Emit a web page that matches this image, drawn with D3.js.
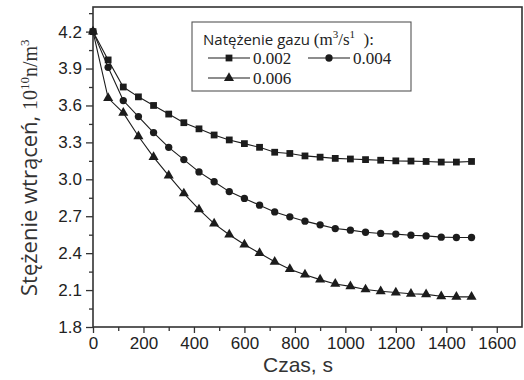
<!DOCTYPE html>
<html>
<head>
<meta charset="utf-8">
<script src="https://cdn.jsdelivr.net/npm/d3@7"></script>
<style>
  body { margin: 0; background: #fff; }
  .tick text { font-family: 'Liberation Sans', Arial, sans-serif; font-size: 17px; fill: #222; }
  .tick line { stroke: #333; stroke-width: 1.3; }
  .domain { display: none; }
</style>
</head>
<body>
<div class="chart-container"></div>
<script>
// time, s
const times = [0, 60, 120, 180, 240, 300, 360, 420, 480, 540, 600, 660, 720, 780, 840,
  900, 960, 1020, 1080, 1140, 1200, 1260, 1320, 1380, 1440, 1500];

// inclusion concentration, 10^10 n/m^3
const flow002 = [4.2, 3.97, 3.75, 3.67, 3.60, 3.53, 3.46, 3.41, 3.36, 3.32, 3.29, 3.26, 3.22,
  3.21, 3.19, 3.18, 3.17, 3.165, 3.16, 3.155, 3.15, 3.148, 3.145, 3.14, 3.14, 3.145];
const flow004 = [4.2, 3.91, 3.64, 3.51, 3.38, 3.26, 3.16, 3.06, 2.98, 2.90, 2.845, 2.79, 2.735,
  2.695, 2.66, 2.63, 2.60, 2.587, 2.57, 2.56, 2.555, 2.546, 2.54, 2.53, 2.527, 2.527];
const flow006 = [4.2, 3.66, 3.54, 3.35, 3.18, 3.03, 2.885, 2.755, 2.64, 2.55, 2.47, 2.40, 2.33,
  2.27, 2.225, 2.185, 2.15, 2.13, 2.105, 2.09, 2.08, 2.07, 2.065, 2.05, 2.045, 2.045];

const seriesLabels = ['0.002', '0.004', '0.006'];
const seriesSymbols = [d3.symbolSquare, d3.symbolCircle, d3.symbolTriangle];
const symbolSizes = [46, 42, 44];

const xTicks = [0, 200, 400, 600, 800, 1000, 1200, 1400, 1600];
const xMinor = [100, 300, 500, 700, 900, 1100, 1300, 1500];
const yTicks = [1.8, 2.1, 2.4, 2.7, 3.0, 3.3, 3.6, 3.9, 4.2];
const yMinor = [1.95, 2.25, 2.55, 2.85, 3.15, 3.45, 3.75, 4.05, 4.35];

const width = 524;
const height = 380;
const margin = { top: 7, right: 2, bottom: 53, left: 93 };
const innerW = width - margin.left - margin.right;
const innerH = height - margin.top - margin.bottom;
const ink = '#1c1c1c';
const serif = "'Liberation Serif', 'Times New Roman', serif";
const sans = "'Open Sans', sans-serif";

const svg = d3.select('.chart-container')
  .append('svg')
  .attr('width', width)
  .attr('height', height);

const x = d3.scaleLinear().domain([0, 1700]).range([0, innerW]);
const y = d3.scaleLinear().domain([1.8, 4.4]).range([innerH, 0]);

const g = svg.append('g')
  .attr('transform', `translate(${margin.left}, ${margin.top})`);

// minor ticks
g.append('g')
  .attr('transform', `translate(0, ${innerH})`)
  .call(d3.axisBottom(x).tickValues(xMinor).tickSize(4).tickFormat(''));
g.append('g')
  .call(d3.axisLeft(y).tickValues(yMinor).tickSize(4).tickFormat(''));

// major ticks
g.append('g')
  .attr('transform', `translate(0, ${innerH})`)
  .call(d3.axisBottom(x).tickValues(xTicks).tickSize(6).tickPadding(4).tickFormat(d3.format('d')));
g.append('g')
  .call(d3.axisLeft(y).tickValues(yTicks).tickSize(7).tickPadding(4).tickFormat(d3.format('.1f')));

// frame
g.append('rect')
  .attr('width', innerW)
  .attr('height', innerH)
  .attr('fill', 'none')
  .attr('stroke', '#333')
  .attr('stroke-width', 1.6);

const series = [flow002, flow004, flow006].map((vals, i) => ({
  label: seriesLabels[i],
  symbol: seriesSymbols[i],
  size: symbolSizes[i],
  points: vals.map((v, j) => ({ t: times[j], v: v }))
}));

const line = d3.line()
  .x((d) => x(d.t))
  .y((d) => y(d.v));

series.forEach((s) => {
  g.append('path')
    .datum(s.points)
    .attr('d', line)
    .attr('fill', 'none')
    .attr('stroke', ink)
    .attr('stroke-width', 1.1);

  g.selectAll(null)
    .data(s.points)
    .enter()
    .append('path')
    .attr('transform', (d) => `translate(${x(d.t)}, ${y(d.v)})`)
    .attr('d', d3.symbol().type(s.symbol).size(s.size))
    .attr('fill', ink);
});

// legend
const legend = svg.append('g').attr('transform', 'translate(192, 22)');
legend.append('rect')
  .attr('width', 219)
  .attr('height', 69)
  .attr('fill', '#fff')
  .attr('stroke', '#555')
  .attr('stroke-width', 1.1);

const legendTitle = legend.append('text')
  .attr('x', 11)
  .attr('y', 23)
  .attr('fill', '#222');
legendTitle.append('tspan')
  .style('font-family', sans)
  .style('font-size', '15px')
  .text('Natężenie gazu\u00a0');
legendTitle.append('tspan')
  .style('font-family', serif)
  .style('font-size', '17px')
  .text('(m');
legendTitle.append('tspan')
  .style('font-family', serif)
  .style('font-size', '11px')
  .attr('dy', -7)
  .text('3');
legendTitle.append('tspan')
  .style('font-family', serif)
  .style('font-size', '17px')
  .attr('dy', 7)
  .text('/s');
legendTitle.append('tspan')
  .style('font-family', serif)
  .style('font-size', '11px')
  .attr('dy', -7)
  .text('1');
legendTitle.append('tspan')
  .style('font-family', serif)
  .style('font-size', '17px')
  .attr('dy', 7)
  .text('\u00a0\u00a0):');

const legendPos = [[16, 36], [116, 36], [16, 56]];
series.forEach((s, i) => {
  const item = legend.append('g')
    .attr('transform', `translate(${legendPos[i][0]}, ${legendPos[i][1]})`);
  item.append('line')
    .attr('x1', 0).attr('x2', 42)
    .attr('stroke', ink)
    .attr('stroke-width', 1.1);
  item.append('path')
    .attr('transform', 'translate(21, 0)')
    .attr('d', d3.symbol().type(s.symbol).size(s.size))
    .attr('fill', ink);
  item.append('text')
    .attr('x', 45)
    .attr('y', 6)
    .style('font-family', serif)
    .style('font-size', '17px')
    .attr('fill', '#222')
    .text(s.label);
});

// axis titles
svg.append('text')
  .attr('x', 263)
  .attr('y', 372)
  .style('font-family', "'Liberation Sans', Arial, sans-serif")
  .style('font-size', '21px')
  .attr('fill', '#333')
  .text('Czas, s');

const yTitle = svg.append('text')
  .attr('transform', 'translate(37, 296) rotate(-90)')
  .attr('fill', '#333');
yTitle.append('tspan')
  .style('font-family', sans)
  .style('font-size', '22px')
  .text('Stężenie wtrąceń, ');
yTitle.append('tspan')
  .style('font-family', serif)
  .style('font-size', '20px')
  .text('10');
yTitle.append('tspan')
  .style('font-family', serif)
  .style('font-size', '13px')
  .attr('dy', -8)
  .text('10');
yTitle.append('tspan')
  .style('font-family', serif)
  .style('font-size', '20px')
  .attr('dy', 8)
  .text('n/m');
yTitle.append('tspan')
  .style('font-family', serif)
  .style('font-size', '13px')
  .attr('dy', -8)
  .text('3');
</script>
</body>
</html>
